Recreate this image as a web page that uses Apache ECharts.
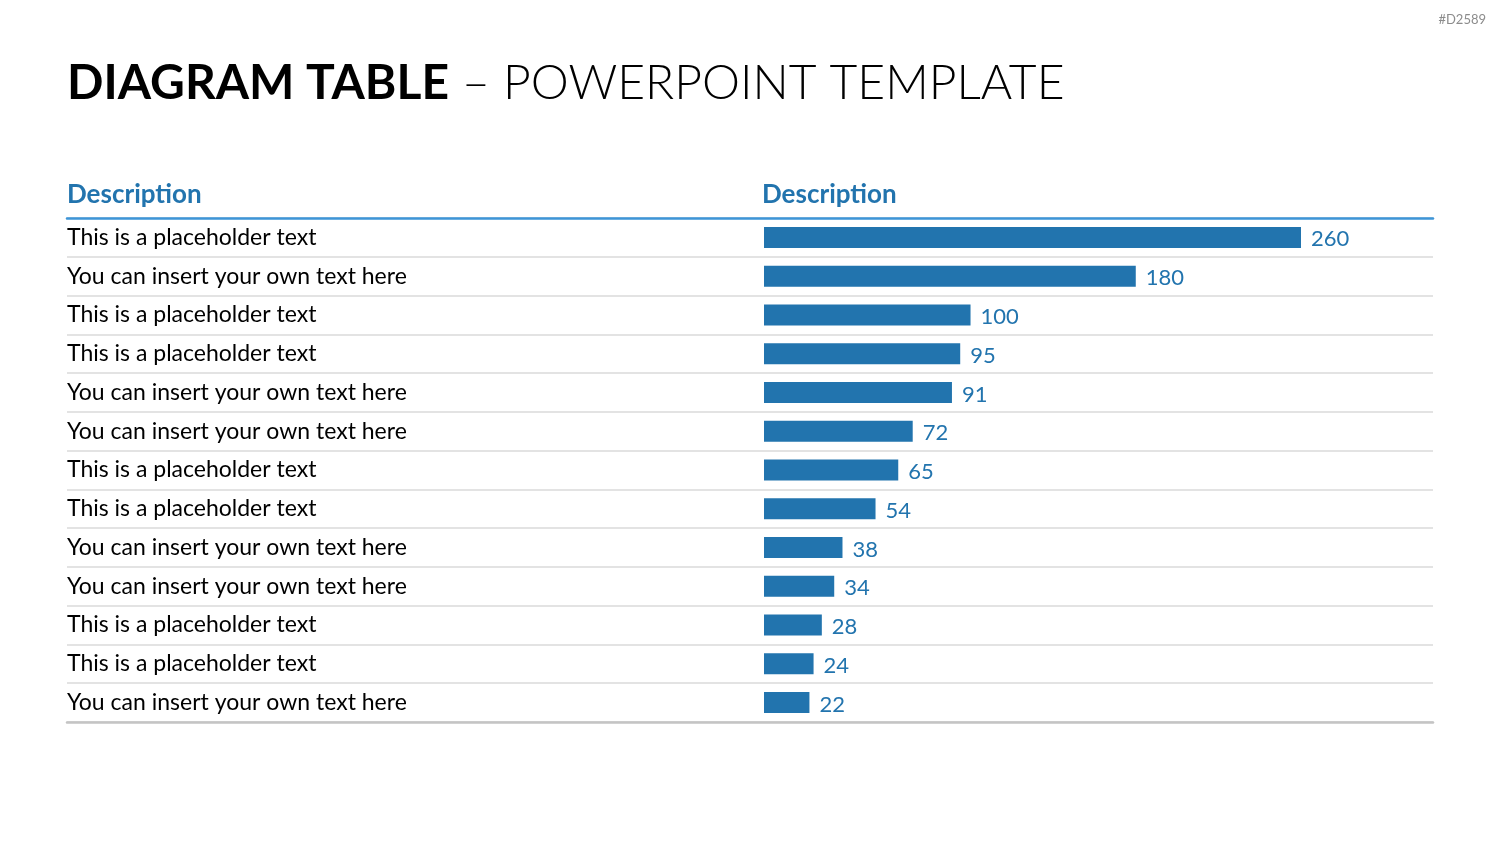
<!DOCTYPE html>
<html>
<head>
<meta charset="utf-8">
<script src="https://cdn.jsdelivr.net/npm/echarts@6/dist/echarts.min.js"></script>
<style>
  html, body { margin: 0; padding: 0; background: #fff; }
  #chart { width: 1500px; height: 844px; }
</style>
</head>
<body>
<div id="chart"></div>
<script>
const rowLabels = [
  'This is a placeholder text',
  'You can insert your own text here',
  'This is a placeholder text',
  'This is a placeholder text',
  'You can insert your own text here',
  'You can insert your own text here',
  'This is a placeholder text',
  'This is a placeholder text',
  'You can insert your own text here',
  'You can insert your own text here',
  'This is a placeholder text',
  'This is a placeholder text',
  'You can insert your own text here'
]
const values = [260, 180, 100, 95, 91, 72, 65, 54, 38, 34, 28, 24, 22]
const headers = ['Description', 'Description']

const blue = '#2274ae'
const font = 'Lato'
const chart = echarts.init(document.getElementById('chart'))

chart.setOption({
  animation: false,
  textStyle: { fontFamily: font },
  title: [
    {
      text: '{b|DIAGRAM TABLE}{l| – POWERPOINT TEMPLATE}',
      left: 67,
      top: 60,
      padding: 0,
      textStyle: {
        rich: {
          b: { fontFamily: font, fontWeight: 'bold', fontSize: 48, color: '#000' },
          l: { fontFamily: font, fontWeight: 300, fontSize: 48, color: '#000' }
        }
      }
    },
    {
      text: '#D2589',
      right: 14,
      top: 13,
      padding: 0,
      textStyle: { fontFamily: font, fontWeight: 'normal', fontSize: 13, color: '#8c8c8c' }
    },
    {
      text: headers[0],
      left: 67,
      top: 182,
      padding: 0,
      textStyle: { fontFamily: font, fontWeight: 'bold', fontSize: 26, color: blue }
    },
    {
      text: headers[1],
      left: 762,
      top: 182,
      padding: 0,
      textStyle: { fontFamily: font, fontWeight: 'bold', fontSize: 26, color: blue }
    }
  ],
  grid: [
    { left: 67, right: 67, top: 218, height: 504 },
    { left: 764, width: 537, top: 218, height: 504 }
  ],
  xAxis: [
    {
      gridIndex: 0, type: 'value', position: 'top',
      axisLine: { show: true, lineStyle: { color: '#3d95d8', width: 2.5 } },
      axisTick: { show: false }, axisLabel: { show: false }, splitLine: { show: false }
    },
    {
      gridIndex: 0, type: 'value', position: 'bottom',
      axisLine: { show: true, lineStyle: { color: '#c4c4c4', width: 2.5 } },
      axisTick: { show: false }, axisLabel: { show: false }, splitLine: { show: false }
    },
    {
      gridIndex: 1, type: 'value', min: 0, max: 260, show: false
    }
  ],
  yAxis: [
    {
      gridIndex: 0, type: 'category', inverse: true, data: rowLabels,
      axisLine: { show: false }, axisTick: { show: false },
      splitLine: { show: true, lineStyle: { color: '#dadada', width: 1.5 } },
      axisLabel: {
        inside: true, margin: 0, align: 'left',
        color: '#000', fontFamily: font, fontSize: 23
      }
    },
    {
      gridIndex: 1, type: 'category', inverse: true, data: rowLabels, show: false
    }
  ],
  series: [
    {
      type: 'bar',
      xAxisIndex: 2,
      yAxisIndex: 1,
      data: values,
      barWidth: 21,
      itemStyle: { color: blue },
      label: {
        show: true, position: 'right', distance: 10, offset: [0, 2],
        color: blue, fontFamily: font, fontSize: 22
      }
    }
  ]
})
</script>
</body>
</html>
